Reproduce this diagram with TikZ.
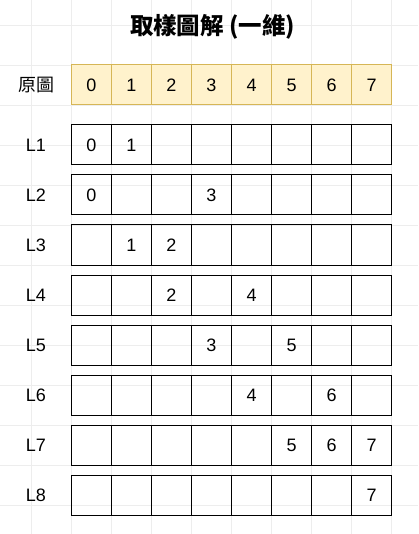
\documentclass[tikz,border=0pt]{standalone}
\usepackage{fontspec}
\setmainfont{Liberation Sans}
\newfontfamily\cjk{Noto Sans CJK TC}
\definecolor{cellfill}{HTML}{FFF2CC}
\definecolor{celldraw}{HTML}{D6B656}
\definecolor{gridgray}{HTML}{EDEDED}

\begin{document}
\begin{tikzpicture}[x=0.75pt,y=-0.75pt,
  cell/.style={draw=black, line width=0.75pt, minimum width=30pt, minimum height=30pt, inner sep=0pt},
  orig/.style={cell, draw=celldraw, fill=cellfill},
  num/.style={font=\fontsize{13.5}{16}\selectfont},
  rowlabel/.style={font=\fontsize{13.5}{16}\selectfont}]
\useasboundingbox (0,0) rectangle (418,534);
% Background grid
\fill[white] (0,0) rectangle (418,534);
\foreach \i in {0,...,9} \draw[gridgray, line width=0.6pt] (31.5+40*\i,0) -- (31.5+40*\i,534);
\foreach \j in {0,...,12} \draw[gridgray, line width=0.6pt] (0,25+40*\j) -- (418,25+40*\j);

% Title
\node[font=\cjk\bfseries\fontsize{17.6}{20}\selectfont] (title) at (212.5,27) {取樣圖解 (一維)};

% Original row
\node[rowlabel] (lab0) at (36.5,85) {\cjk 原圖};
\foreach \c in {0,...,7} \node[orig, num] (o\c) at (91.5+40*\c,85) {\c};

% Sampled rows L1..L8
\foreach \r in {1,...,8} {
  \node[rowlabel] (lab\r) at (36,145+50*\r-50) {L\r};
  \foreach \c in {0,...,7} \node[cell] (r\r-\c) at (91.5+40*\c,145+50*\r-50) {};
}

% Values kept in each row
\foreach \r/\cols in {1/{0,1},2/{0,3},3/{1,2},4/{2,4},5/{3,5},6/{4,6},7/{5,6,7},8/{7}}
  \foreach \c in \cols \node[num] at (r\r-\c) {\c};
\end{tikzpicture}
\end{document}
